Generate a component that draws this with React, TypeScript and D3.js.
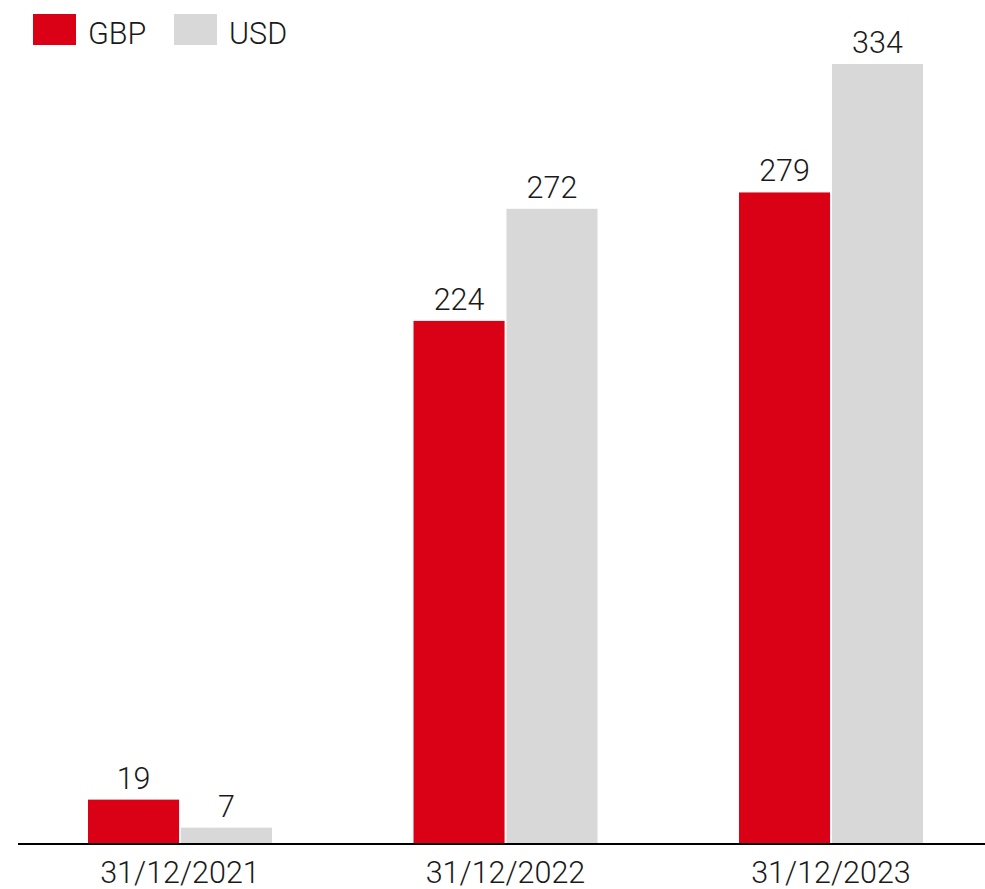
import React, { useRef, useEffect } from 'react';
import * as d3 from 'd3';

const categories = ['31/12/2021', '31/12/2022', '31/12/2023'];
const seriesNames = ['GBP', 'USD'];
const gbpValues = [19, 224, 279];
const usdValues = [7, 272, 334];

const colors: Record<string, string> = { GBP: '#DA0016', USD: '#D8D8D8' };

const App: React.FC = () => {
  const svgRef = useRef<SVGSVGElement | null>(null);

  useEffect(() => {
    if (!svgRef.current) return;
    const svg = d3.select(svgRef.current);
    svg.selectAll('*').remove();

    const width = 985;
    const height = 889;
    const baseline = 844;
    const font = 'Roboto, "Liberation Sans", sans-serif';
    const fontSize = 30.5;

    svg.attr('width', width).attr('height', height);

    // group centres
    const x0 = d3.scalePoint<string>().domain(categories).range([180, 831]);
    // bars within a group
    const x1 = d3.scaleBand<string>().domain(seriesNames).range([-92, 92]).paddingInner(0.02);
    const y = d3.scaleLinear().domain([0, 334]).range([baseline, 64]);

    const rows = categories.map((c, i) => ({
      cat: c,
      items: [
        { key: 'GBP', value: gbpValues[i] },
        { key: 'USD', value: usdValues[i] },
      ],
    }));

    const groups = svg.append('g')
      .selectAll('g.group')
      .data(rows)
      .enter().append('g')
      .attr('class', 'group')
      .attr('transform', d => `translate(${x0(d.cat)},0)`);

    groups.selectAll('rect')
      .data(d => d.items)
      .enter().append('rect')
      .attr('x', d => x1(d.key)!)
      .attr('y', d => y(d.value))
      .attr('width', x1.bandwidth())
      .attr('height', d => baseline - y(d.value))
      .attr('fill', d => colors[d.key]);

    groups.selectAll('text.value')
      .data(d => d.items)
      .enter().append('text')
      .attr('class', 'value')
      .attr('x', d => x1(d.key)! + x1.bandwidth() / 2)
      .attr('y', d => y(d.value) - 11)
      .attr('text-anchor', 'middle')
      .attr('font-family', font)
      .attr('font-size', fontSize)
      .attr('font-weight', 300)
      .attr('fill', '#1a1a1a')
      .text(d => d.value);

    // baseline
    svg.append('line')
      .attr('x1', 18)
      .attr('x2', width)
      .attr('y1', baseline)
      .attr('y2', baseline)
      .attr('stroke', '#000')
      .attr('stroke-width', 2);

    // category labels
    svg.append('g')
      .selectAll('text')
      .data(categories)
      .enter().append('text')
      .attr('x', d => x0(d)!)
      .attr('y', 883)
      .attr('text-anchor', 'middle')
      .attr('font-family', font)
      .attr('font-size', fontSize)
      .attr('font-weight', 300)
      .attr('fill', '#1a1a1a')
      .text(d => d);

    // legend
    const legendX = [33, 174];
    const legend = svg.append('g')
      .selectAll('g')
      .data(seriesNames)
      .enter().append('g')
      .attr('transform', (d, i) => `translate(${legendX[i]},14)`);

    legend.append('rect')
      .attr('width', 43)
      .attr('height', 31)
      .attr('fill', d => colors[d]);

    legend.append('text')
      .attr('x', 55)
      .attr('y', 30)
      .attr('font-family', font)
      .attr('font-size', fontSize)
      .attr('font-weight', 300)
      .attr('fill', '#1a1a1a')
      .text(d => d);
  }, []);

  return (
    <svg ref={svgRef} style={{ position: 'absolute', left: 0, top: 0, display: 'block' }} />
  );
};

export default App;
